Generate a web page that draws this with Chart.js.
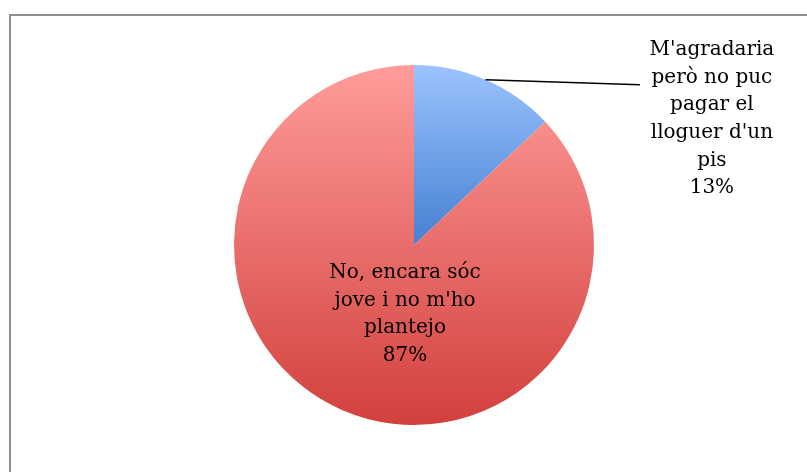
<!DOCTYPE html>
<html>
<head>
<meta charset="utf-8">
<script src="https://cdn.jsdelivr.net/npm/chart.js@4.4.0/dist/chart.umd.min.js"></script>
<style>
  html, body { margin: 0; padding: 0; background: #fff; }
  #wrap { position: relative; width: 807px; height: 472px; overflow: hidden; }
  #frame { position: absolute; left: 9px; top: 14px; width: 900px; height: 600px; border: 2px solid #8e8e8e; box-sizing: border-box; }
  #pie-chart { position: absolute; left: 0; top: 0; }
</style>
</head>
<body>
<div id="wrap">
  <div id="frame"></div>
  <canvas id="pie-chart" width="807" height="472"></canvas>
</div>
<script>
const labels = [
    ["M'agradaria", "però no puc", "pagar el", "lloguer d'un", "pis"],
    ["No, encara sóc", "jove i no m'ho", "plantejo"]
];
const values = [13, 87];
const percentLabels = ["13%", "87%"];
const topColors = ["#9cc3ff", "#ff9c9a"];
const bottomColors = ["#4580d0", "#d2403c"];

const chartCanvas = document.getElementById("pie-chart");

// gradient per slice: blue runs top -> centre, red runs top -> bottom
const sliceFill = (context) => {
    const chart = context.chart;
    const area = chart.chartArea;
    if (!area) return topColors[context.dataIndex];
    const i = context.dataIndex;
    const bottom = i === 0 ? (area.top + area.bottom) / 2 : area.bottom;
    const g = chart.ctx.createLinearGradient(0, area.top, 0, bottom);
    g.addColorStop(0, topColors[i]);
    g.addColorStop(1, bottomColors[i]);
    return g;
};

const sliceLabels = {
    id: "sliceLabels",
    afterDatasetsDraw(chart) {
        const ctx = chart.ctx;
        const arcs = chart.getDatasetMeta(0).data;
        ctx.save();
        ctx.font = "20px 'DejaVu Serif'";
        ctx.fillStyle = "#000";
        ctx.textAlign = "center";
        ctx.textBaseline = "middle";
        const lineH = 27.6;

        arcs.forEach((arc, i) => {
            const { x, y, outerRadius, startAngle, endAngle } = arc.getProps(["x", "y", "outerRadius", "startAngle", "endAngle"], true);
            const r = outerRadius;
            const lines = labels[i].concat([percentLabels[i]]);
            let cx, startY;
            if (i === 0) {
                // outside label with a leader line
                const mid = (startAngle + endAngle) / 2;
                const ex = x + Math.cos(mid) * r;
                const ey = y + Math.sin(mid) * r;
                ctx.beginPath();
                ctx.strokeStyle = "#000";
                ctx.lineWidth = 1.5;
                ctx.moveTo(ex, ey);
                ctx.lineTo(x + 1.255 * r, y - 0.89 * r);
                ctx.stroke();
                cx = x + 1.655 * r;
                startY = y - 1.083 * r;
            } else {
                cx = x - 0.05 * r;
                startY = y + 0.385 * r - (lines.length - 1) * lineH / 2;
            }
            lines.forEach((t, k) => ctx.fillText(t, cx, startY + k * lineH));
        });
        ctx.restore();
    }
};

new Chart(chartCanvas, {
    type: "pie",
    data: {
        labels: labels.map(l => l.join(" ")),
        datasets: [{
            data: values,
            backgroundColor: sliceFill,
            borderWidth: 0
        }]
    },
    options: {
        responsive: false,
        animation: false,
        layout: {
            padding: { left: 234, right: 213, top: 65, bottom: 47 }
        },
        plugins: {
            legend: { display: false },
            tooltip: { enabled: false }
        }
    },
    plugins: [sliceLabels]
});
</script>
</body>
</html>
